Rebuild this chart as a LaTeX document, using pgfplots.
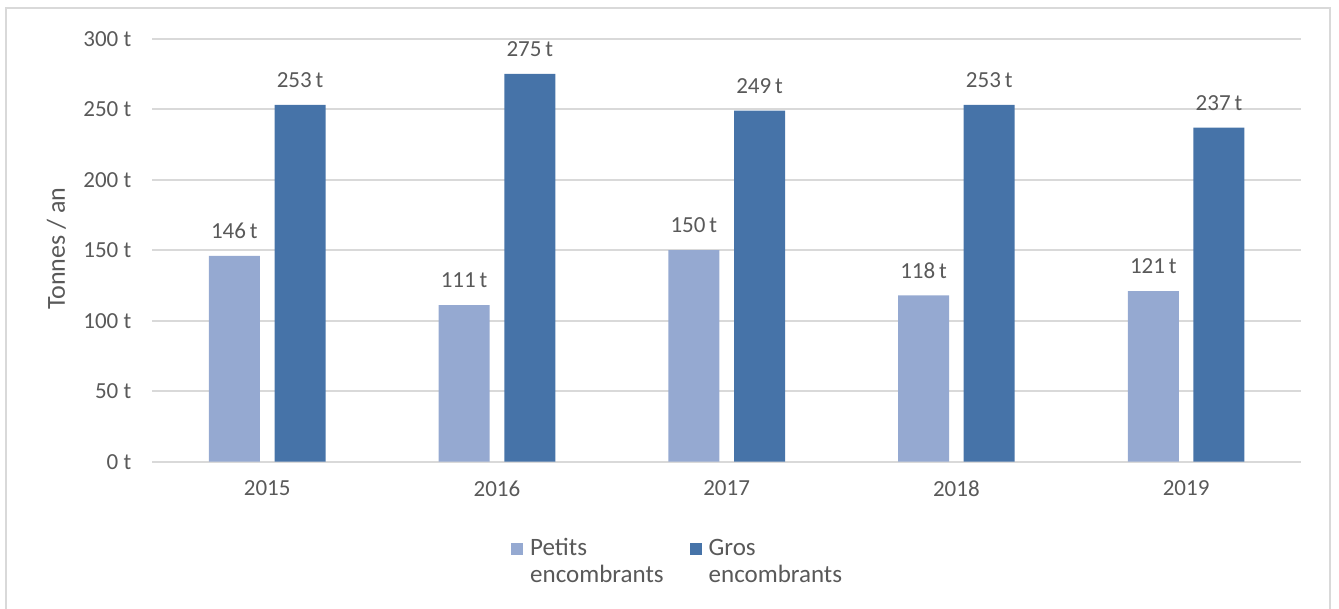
\documentclass[border=0pt]{standalone}
\usepackage{pgfplots}
\pgfplotsset{compat=1.18}
\usepackage{fontspec}
\setmainfont{Carlito}
\definecolor{lightbar}{HTML}{95A9D1}
\definecolor{darkbar}{HTML}{4673A8}
\definecolor{txt}{HTML}{595959}
\definecolor{grid}{HTML}{D9D9D9}
\begin{document}
\begin{tikzpicture}
\useasboundingbox (-76.15pt,-73.65pt) rectangle (593.35pt,230.85pt);
\draw[grid, line width=1pt] (-73.15pt,-90pt) -- (-73.15pt,226.85pt) -- (588.85pt,226.85pt) -- (588.85pt,-90pt);
\begin{axis}[
  at={(0,0)}, anchor=south west,
  scale only axis,
  width=574.35pt, height=211.5pt,
  ybar, bar width=0.222,
  xmin=-0.5, xmax=4.5,
  ymin=0, ymax=300,
  xtick=data,
  xticklabels={2015,2016,2017,2018,2019},
  ytick={0,50,100,150,200,250,300},
  yticklabels={0 t,50 t,100 t,150 t,200 t,250 t,300 t},
  major tick length=0pt,
  separate axis lines,
  axis x line*=bottom,
  axis y line*=left,
  y axis line style={draw=none},
  x axis line style={draw=grid, line width=1pt},
  ymajorgrids,
  grid style={draw=grid, line width=1pt},
  tick label style={font=\fontsize{11.5}{13}\selectfont, text=txt},
  yticklabel style={xshift=-7pt},
  xticklabel style={yshift=-6pt},
  /pgf/number format/assume math mode=true,
  nodes near coords={\pgfmathprintnumber{\pgfplotspointmeta}\,t},
  every node near coord/.append style={font=\fontsize{11.5}{13}\selectfont, text=txt, anchor=south, yshift=5pt},
  legend columns=2,
  legend cell align=left,
  legend style={draw=none, at={(axis description cs:0.3069,-0.162)}, anchor=north west,
    font=\fontsize{12.5}{13.5}\selectfont, text=txt,
    cells={align=left},
    /tikz/every even column/.append style={column sep=11pt}},
  legend image code/.code={\fill[#1] (-3pt,3.75pt) rectangle (3pt,9.75pt); \path (4.5pt,3.75pt);},
]
\addplot[fill=lightbar, draw=none, bar shift=-0.143] coordinates {(0,146) (1,111) (2,150) (3,118) (4,121)};
\addplot[fill=darkbar, draw=none, bar shift=0.143] coordinates {(0,253) (1,275) (2,249) (3,253) (4,237)};
\legend{Petits\\encombrants, Gros\\encombrants}
\end{axis}
\node[rotate=90, font=\fontsize{13}{15}\selectfont, text=txt] at (-48pt,106.5pt) {Tonnes / an};
\end{tikzpicture}
\end{document}
